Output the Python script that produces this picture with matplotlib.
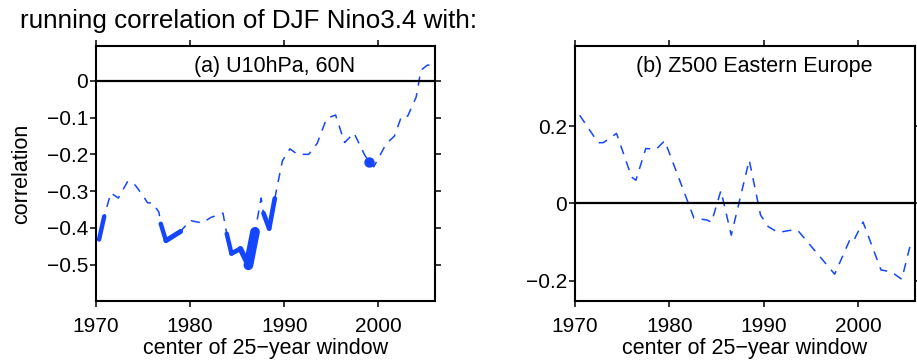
import matplotlib
matplotlib.use("Agg")
import matplotlib.pyplot as plt

plt.rcParams['font.family'] = ['Liberation Sans', 'DejaVu Sans']

# (a) running correlation with U10hPa at 60N
u10_year = [1970.35, 1970.9, 1971.6, 1972.4, 1973.4, 1974.2, 1975.1, 1975.5, 1976.0,
            1976.7, 1976.9, 1977.45, 1979.0, 1980.0, 1981.3, 1982.2, 1983.5, 1983.9,
            1984.4, 1985.35, 1986.2, 1986.9, 1987.55, 1987.8, 1988.4, 1989.0, 1989.8,
            1990.6, 1991.4, 1992.6, 1993.5, 1994.5, 1995.45, 1996.4, 1997.4, 1998.5,
            1999.0, 1999.5, 2000.8, 2001.7, 2002.45, 2003.1, 2004.0, 2004.5, 2005.2, 2005.5]
u10_corr = [-0.432, -0.369, -0.305, -0.319, -0.273, -0.284, -0.316, -0.332, -0.332,
            -0.357, -0.389, -0.435, -0.410, -0.380, -0.387, -0.372, -0.360, -0.416,
            -0.470, -0.457, -0.502, -0.411, -0.319, -0.360, -0.402, -0.320, -0.218,
            -0.185, -0.200, -0.200, -0.170, -0.102, -0.093, -0.168, -0.142, -0.200,
            -0.221, -0.234, -0.172, -0.150, -0.096, -0.096, -0.044, 0.029, 0.043, 0.043]
# significance weight of the segment starting at each point (0 = not significant)
u10_sig = [3.2, 0, 0, 0, 0, 0, 0, 0, 0,
           0, 3.2, 3.6, 0, 0, 0, 0, 0, 3.2,
           3.4, 4.0, 7.0, 0, 0, 3.4, 3.4, 0, 0,
           0, 0, 0, 0, 0, 0, 0, 0, 0,
           0, 0, 0, 0, 0, 0, 0, 0, 0, 0]
u10_dot_year = [1999.0]
u10_dot_corr = [-0.221]

# (b) running correlation with Z500 over Eastern Europe
z500_year = [1970.5, 1972.45, 1973.0, 1974.4, 1976.0, 1976.45, 1977.5, 1978.6, 1979.5,
             1982.6, 1984.0, 1984.45, 1985.45, 1986.55, 1988.45, 1989.65, 1990.46,
             1991.5, 1993.2, 1993.6, 1997.5, 1999.1, 1999.45, 2000.5, 2002.4, 2003.5,
             2004.6, 2005.5]
z500_corr = [0.228, 0.157, 0.157, 0.181, 0.068, 0.060, 0.142, 0.140, 0.162,
             -0.038, -0.043, -0.049, 0.033, -0.082, 0.112, -0.030, -0.060,
             -0.075, -0.068, -0.070, -0.183, -0.094, -0.099, -0.048, -0.172, -0.177,
             -0.196, -0.108]

blue = '#1446ff'

fig = plt.figure(figsize=(9.17, 3.64), dpi=100)
ax1 = fig.add_axes([0.1044, 0.1723, 0.370, 0.7014])
ax2 = fig.add_axes([0.627, 0.1723, 0.3708, 0.7014])

ax1.plot(u10_year, u10_corr, color=blue, lw=1.1, linestyle=(0, (6, 5)))
for i, w in enumerate(u10_sig):
    if w > 0:
        ax1.plot(u10_year[i:i + 2], u10_corr[i:i + 2], color=blue, lw=w,
                 solid_capstyle='round', solid_joinstyle='round')
ax1.plot(u10_dot_year, u10_dot_corr, 'o', color=blue, ms=6.5)

ax2.plot(z500_year, z500_corr, color=blue, lw=1.1, linestyle=(0, (6, 5)))

for ax in (ax1, ax2):
    ax.axhline(0, color='black', lw=1.6, zorder=3)
    ax.set_xlim(1970, 2006)
    ax.set_xticks([1970, 1980, 1990, 2000])
    ax.tick_params(which='both', direction='out', top=True, right=True,
                   length=4, width=1.1, labelsize=15)
    ax.tick_params(axis='x', pad=7)
    ax.tick_params(axis='y', pad=1.5)
    for s in ax.spines.values():
        s.set_linewidth(1.5)
    ax.set_xlabel('center of 25\u2212year window', fontsize=15.5, labelpad=2)

ax1.set_ylim(-0.6, 0.095)
ax1.set_yticks([0, -0.1, -0.2, -0.3, -0.4, -0.5])
ax1.set_yticklabels(['0', '\u22120.1', '\u22120.2', '\u22120.3', '\u22120.4', '\u22120.5'])
ax2.set_ylim(-0.253, 0.407)
ax2.set_yticks([0.2, 0, -0.2])
ax2.set_yticklabels(['0.2', '0', '\u22120.2'])

ax1.text(0.527, 0.899, '(a) U10hPa, 60N', transform=ax1.transAxes,
         ha='center', va='baseline', fontsize=15.5)
ax2.text(0.526, 0.899, '(b) Z500 Eastern Europe', transform=ax2.transAxes,
         ha='center', va='baseline', fontsize=15.5)

fig.text(21.5 / 917, 1 - 173.5 / 364, 'correlation', rotation=90,
         ha='center', va='center', fontsize=15.5)
fig.text(20 / 917, 1 - 28.3 / 364, 'running correlation of DJF Nino3.4 with:',
         ha='left', va='baseline', fontsize=18.7)

fig.savefig('out.png', dpi=100)
